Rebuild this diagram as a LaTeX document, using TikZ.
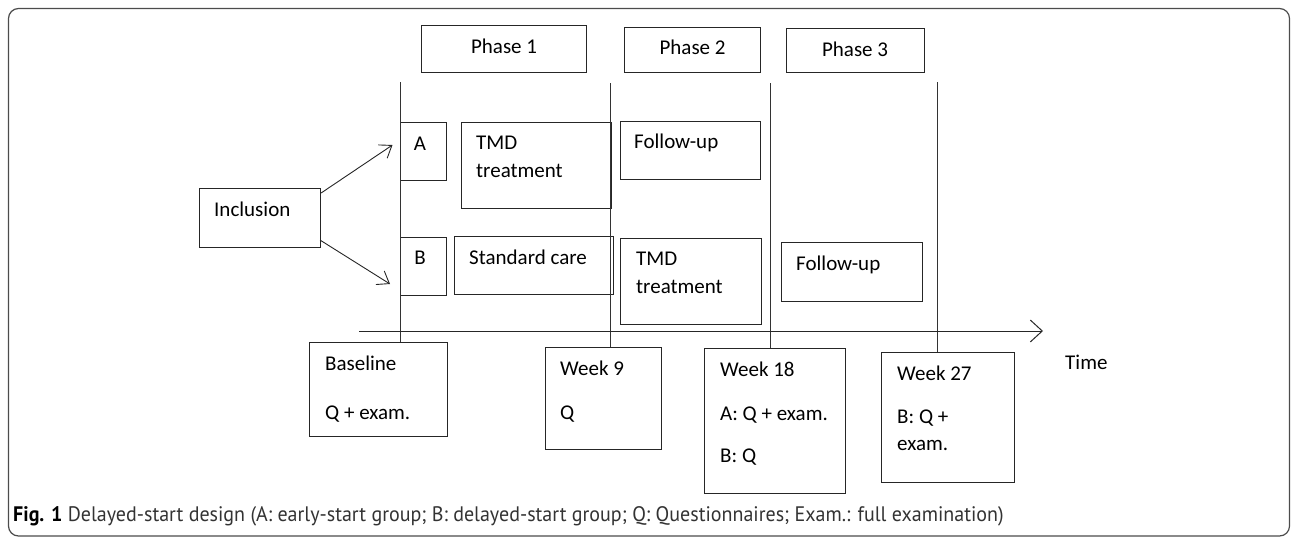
\documentclass[tikz,border=0pt]{standalone}
\usepackage{fontspec}
\setmainfont{Carlito}
\newfontfamily\capfont{PT Sans}
\usetikzlibrary{arrows.meta,calc}
\begin{document}
\begin{tikzpicture}[x=1pt,y=-1pt,
  box/.style={draw=black!85, line width=1.1pt, inner sep=0pt, anchor=north west},
  txt/.style={anchor=base west, inner sep=0pt, font=\fontsize{21}{25}\selectfont},
  ctxt/.style={anchor=base, inner sep=0pt, font=\fontsize{21}{25}\selectfont},
  tline/.style={draw=black!80, line width=1pt},
  arr/.style={draw=black!85, line width=0.9pt, -{Straight Barb[length=11pt,width=16pt]}},
  axisarr/.style={draw=black!85, line width=1pt, -{Straight Barb[length=12pt,width=22pt]}}]
\useasboundingbox (0,0) rectangle (1292,538);
% outer frame
\draw[rounded corners=10pt, draw=black!70, line width=1.2pt] (8.5,8.5) rectangle (1289.5,536);
% boxes
\node[box, minimum width=165pt, minimum height=47pt] (ph1) at (421,25) {};
\node[box, minimum width=136pt, minimum height=45pt] (ph2) at (624,27) {};
\node[box, minimum width=138pt, minimum height=44pt] (ph3) at (785.5,28) {};
\node[box, minimum width=46pt, minimum height=58pt] (A) at (400,122) {};
\node[box, minimum width=150.5pt, minimum height=86pt] (tmdA) at (460.5,122) {};
\node[box, minimum width=140.5pt, minimum height=58pt] (fuA) at (619.5,121) {};
\node[box, minimum width=121pt, minimum height=59pt] (incl) at (199,188) {};
\node[box, minimum width=46pt, minimum height=58pt] (B) at (400,237) {};
\node[box, minimum width=159pt, minimum height=58pt] (std) at (454,236) {};
\node[box, minimum width=140.5pt, minimum height=86pt] (tmdB) at (620,238) {};
\node[box, minimum width=141pt, minimum height=59pt] (fuB) at (780.5,242) {};
\node[box, minimum width=138pt, minimum height=94pt] (base) at (309,342) {};
\node[box, minimum width=116.5pt, minimum height=102pt] (w9) at (544.5,347) {};
\node[box, minimum width=141pt, minimum height=145pt] (w18) at (704,348) {};
\node[box, minimum width=133pt, minimum height=130pt] (w27) at (881,352) {};
% texts
\node[ctxt] at ($(ph1.north)+(0,28.5)$) {Phase 1};
\node[ctxt] at ($(ph2.north)+(0,27)$) {Phase 2};
\node[ctxt] at ($(ph3.north)+(0,28)$) {Phase 3};
\node[ctxt] at (420,150) {A};
\node[ctxt] at (420,264) {B};
\node[txt] at (476,149.5) {TMD};
\node[txt] at (476,177) {treatment};
\node[txt] at (634,148) {Follow-up};
\node[txt] at (214,216.7) {Inclusion};
\node[txt] at (469,264) {Standard care};
\node[txt] at (636,265.7) {TMD};
\node[txt] at (636,293.3) {treatment};
\node[txt] at (796,270.7) {Follow-up};
\node[txt] at (325,370) {Baseline};
\node[txt] at (325,419) {Q + exam.};
\node[txt] at (560,375) {Week 9};
\node[txt] at (560,419) {Q};
\node[txt] at (720,376) {Week 18};
\node[txt] at (720,420) {A: Q + exam.};
\node[txt] at (720,462.7) {B: Q};
\node[txt] at (897,380) {Week 27};
\node[txt] at (897,423.3) {B: Q +};
\node[txt] at (897,450.7) {exam.};
\node[txt] (time) at (1065,369.3) {Time};
% vertical time lines
\coordinate (t1) at (400,82);
\coordinate (t2) at (610,83);
\coordinate (t3) at (770,83);
\coordinate (t4) at (937,82);
\draw[tline] (t1) -- (t1 |- base.north);
\draw[tline] (t2) -- (t2 |- w9.north);
\draw[tline] (t3) -- (t3 |- w18.north);
\draw[tline] (t4) -- (t4 |- w27.north);
% time axis
\coordinate (ax0) at (359,331);
\coordinate (ax1) at (1043,331);
\draw[axisarr] (ax0) -- (ax1);
% arrows from inclusion
\coordinate (pA) at (392.5,145);
\coordinate (pB) at (390,284);
\draw[arr] ($(incl.north east)+(0,5)$) -- (pA);
\draw[arr] ($(incl.south east)+(-1,-8)$) -- (pB);
% caption
\node[anchor=base west, inner sep=0pt] (cap) at (13,521.7) {\capfont\fontsize{21}{25}\selectfont\scalebox{0.953}[1]{\textbf{Fig. 1} \textcolor{black!80}{Delayed-start design (A: early-start group; B: delayed-start group; Q: Questionnaires; Exam.: full examination)}}};
\end{tikzpicture}
\end{document}
